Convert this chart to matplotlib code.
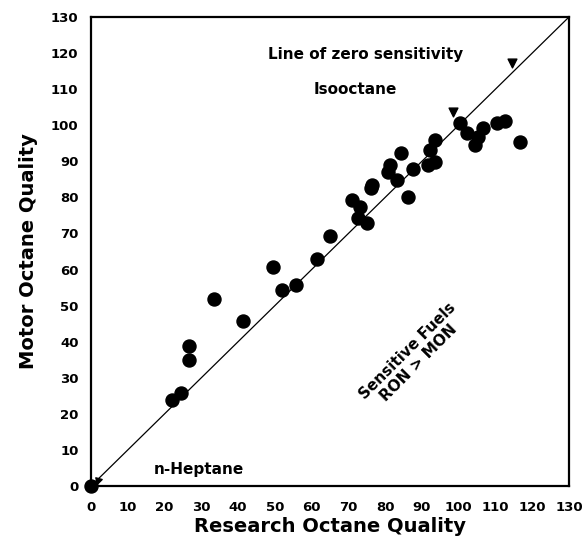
import matplotlib.pyplot as plt

# Research (RON) and Motor (MON) octane numbers of the fuels
ron = [0, 22, 24.5, 26.7, 26.7, 33.5, 41.3, 49.5, 52, 55.7, 61.5, 65,
       70.9, 73.2, 72.7, 75, 76.1, 76.3, 81.3, 80.9, 83.1, 84.3, 86.3, 87.5,
       91.7, 93.6, 92.2, 93.6, 100.4, 102.2, 104.4, 105.3, 106.7, 110.3,
       112.6, 116.7]
mon = [0, 23.8, 25.8, 34.9, 38.8, 51.8, 45.7, 60.7, 54.3, 55.7, 62.9, 69.3,
       79.3, 77.4, 74.2, 73, 82.5, 83.5, 89, 87.1, 84.8, 92.4, 80.2, 88,
       89, 89.9, 93.1, 95.9, 100.5, 97.8, 94.5, 96.8, 99.1, 100.7,
       101.2, 95.4]

# arrowheads on the zero-sensitivity line
mark_x = [1.8, 98.4, 114.5]
mark_y = [1.8, 103.7, 117.2]

axis_max = 130
ticks = list(range(0, 131, 10))

plt.rcParams['font.family'] = ['DejaVu Sans']

fig = plt.figure(figsize=(5.85, 5.4), dpi=100)
ax = fig.add_axes([0.1556, 0.1, 0.817, 0.8685])

ax.plot([0, axis_max], [0, axis_max], color="black", lw=0.9)
ax.scatter(ron, mon, s=88, color="black", zorder=3, clip_on=False)
ax.scatter(mark_x[1:], mark_y[1:], marker="v", s=40, color="black", zorder=3)
ax.scatter(mark_x[:1], mark_y[:1], marker=(3, 0, 45), s=30, color="black", zorder=3)

ax.text(74.8, 119.5, "Line of zero sensitivity", ha="center", va="center",
        fontsize=11, fontweight="bold")
ax.text(72, 109.8, "Isooctane", ha="center", va="center",
        fontsize=11, fontweight="bold")
ax.text(29.2, 4.6, "n-Heptane", ha="center", va="center",
        fontsize=11, fontweight="bold")
ax.text(87.6, 35.8, "Sensitive Fuels\nRON > MON", ha="center", va="center",
        fontsize=11, fontweight="bold", rotation=45, linespacing=1.1)

ax.set_xlim(0, axis_max)
ax.set_ylim(0, axis_max)
ax.set_xticks(ticks)
ax.set_yticks(ticks)
ax.tick_params(length=0, labelsize=9.5)
ax.tick_params(axis="x", pad=11)
ax.tick_params(axis="y", pad=9)
for lbl in ax.get_xticklabels() + ax.get_yticklabels():
    lbl.set_fontweight("bold")

ax.set_xlabel("Research Octane Quality", fontsize=14, fontweight="bold", labelpad=2)
ax.set_ylabel("Motor Octane Quality", fontsize=14, fontweight="bold", labelpad=9)

for sp in ax.spines.values():
    sp.set_linewidth(1.6)

fig.savefig("out.png", dpi=100)
